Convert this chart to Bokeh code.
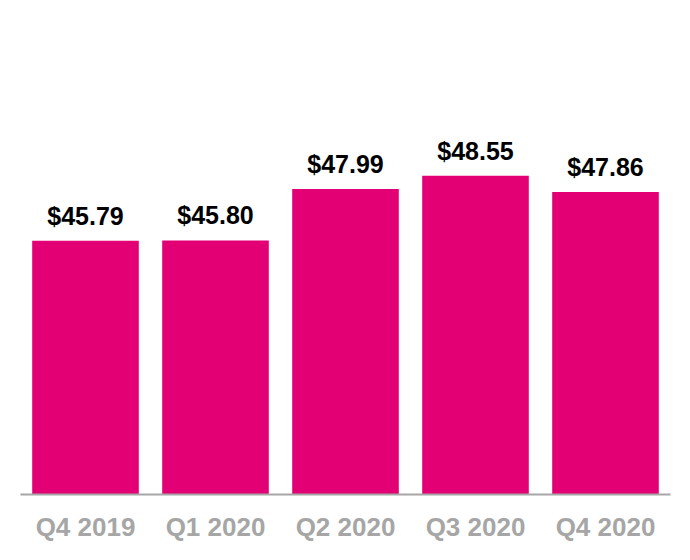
from bokeh.plotting import figure
from bokeh.models import ColumnDataSource, FactorRange, Range1d
from bokeh.core.properties import value
from bokeh.embed import file_html
from bokeh.resources import INLINE

quarters = ["Q4 2019", "Q1 2020", "Q2 2020", "Q3 2020", "Q4 2020"]
arpu = [45.79, 45.80, 47.99, 48.55, 47.86]
labels = ["$45.79", "$45.80", "$47.99", "$48.55", "$47.86"]

y_start = 35.0
y_end = 56.0

src = ColumnDataSource(dict(x=quarters, top=arpu, lab=labels))

p = figure(width=682, height=552, output_backend="svg", toolbar_location=None,
           x_range=FactorRange(*quarters, range_padding=0),
           y_range=Range1d(y_start, y_end),
           min_border_left=20, min_border_right=12, min_border_top=0, min_border_bottom=58)

p.vbar(x="x", top="top", bottom=y_start, width=0.82, source=src,
       fill_color="#E20074", line_color=None)

p.text(x="x", y="top", text="lab", source=src, text_align="center",
       text_baseline="alphabetic", y_offset=-25,
       text_font=value("Liberation Sans"), text_font_style="bold",
       text_font_size="25px", text_color="#000000")

p.outline_line_color = None
p.grid.visible = False
p.yaxis.visible = False
xa = p.xaxis[0]
xa.axis_line_color = "#A6A6A6"
xa.axis_line_width = 2
xa.major_tick_line_color = None
xa.minor_tick_line_color = None
xa.major_label_text_font = "Liberation Sans"
xa.major_label_text_font_style = "bold"
xa.major_label_text_font_size = "26px"
xa.major_label_text_color = "#A6A6A6"
xa.major_label_standoff = 11
p.background_fill_color = "white"
p.border_fill_color = "white"

open("out.html", "w").write(file_html(p, INLINE))
